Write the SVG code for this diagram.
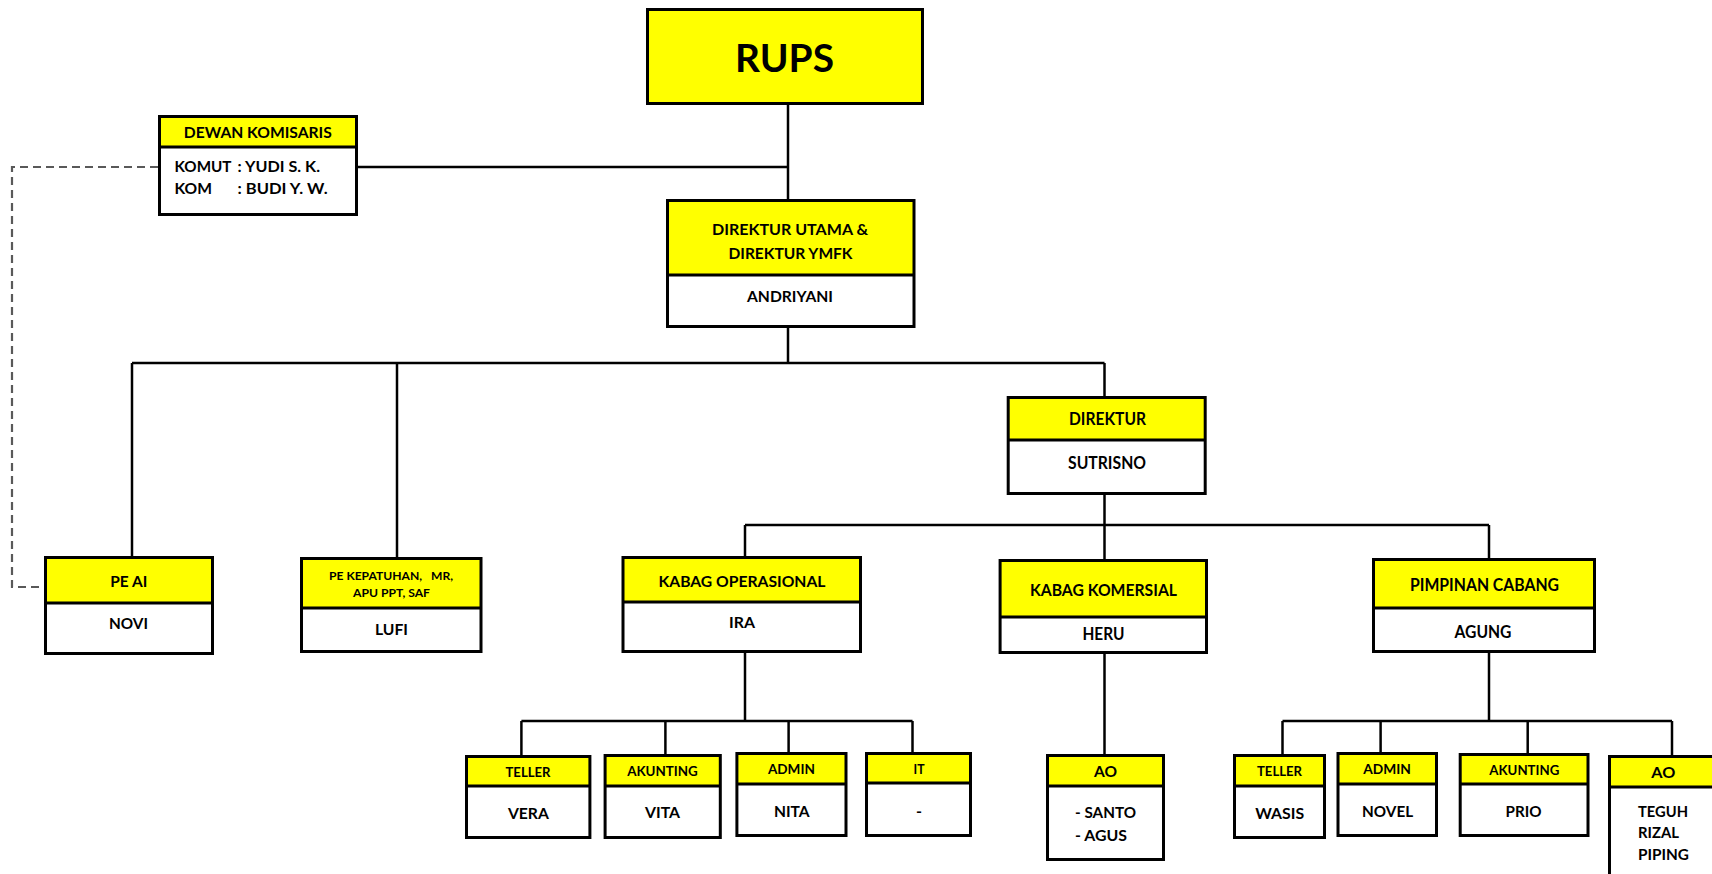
<svg xmlns="http://www.w3.org/2000/svg" width="1712" height="874" viewBox="0 0 1712 874">
<style>
  .bg{fill:#fff;stroke:none}
  .hd{fill:#ffff00;stroke:none}
  .bx{fill:none;stroke:#000;stroke-width:3}
  .dv{stroke:#000;stroke-width:3}
  .cn{fill:none;stroke:#000;stroke-width:2.5}
  .ds{fill:none;stroke:#595959;stroke-width:2.2;stroke-dasharray:8 5}
  text{font-family:Lato,"Open Sans","DejaVu Sans",sans-serif;font-weight:700;fill:#000}
  .c{text-anchor:middle}
</style>
<rect width="1712" height="874" fill="#fff"/>
<g id="connectors">
  <line class="cn" x1="788" y1="105" x2="788" y2="199"/>
  <line class="cn" x1="358" y1="167" x2="788" y2="167"/>
  <polyline class="ds" points="158,167 12,167 12,587 44,587"/>
  <line class="cn" x1="788" y1="328" x2="788" y2="363"/>
  <line class="cn" x1="132" y1="363" x2="1104.5" y2="363"/>
  <line class="cn" x1="132" y1="363" x2="132" y2="556"/>
  <line class="cn" x1="397" y1="363" x2="397" y2="557"/>
  <line class="cn" x1="1104.5" y1="363" x2="1104.5" y2="396"/>
  <line class="cn" x1="1104.5" y1="495" x2="1104.5" y2="559"/>
  <line class="cn" x1="745" y1="525" x2="1489" y2="525"/>
  <line class="cn" x1="745" y1="525" x2="745" y2="556"/>
  <line class="cn" x1="1489" y1="525" x2="1489" y2="558"/>
  <line class="cn" x1="745" y1="653" x2="745" y2="721"/>
  <line class="cn" x1="521.4" y1="721" x2="912.5" y2="721"/>
  <line class="cn" x1="521.4" y1="721" x2="521.4" y2="755"/>
  <line class="cn" x1="665.4" y1="721" x2="665.4" y2="754"/>
  <line class="cn" x1="788.6" y1="721" x2="788.6" y2="752"/>
  <line class="cn" x1="912.5" y1="721" x2="912.5" y2="752"/>
  <line class="cn" x1="1104.5" y1="654" x2="1104.5" y2="754"/>
  <line class="cn" x1="1489" y1="653" x2="1489" y2="721"/>
  <line class="cn" x1="1282.5" y1="721" x2="1672" y2="721"/>
  <line class="cn" x1="1282.5" y1="721" x2="1282.5" y2="754"/>
  <line class="cn" x1="1380.6" y1="721" x2="1380.6" y2="752"/>
  <line class="cn" x1="1527.7" y1="721" x2="1527.7" y2="753"/>
  <line class="cn" x1="1672" y1="721" x2="1672" y2="755"/>
</g>
<g id="rups">
  <rect class="hd" x="647.5" y="9.5" width="275" height="94"/>
  <rect class="bx" x="647.5" y="9.5" width="275" height="94"/>
  <text class="c" x="784.5" y="71.5" font-size="39" textLength="99" lengthAdjust="spacingAndGlyphs">RUPS</text>
</g>
<g id="dewan-komisaris">
  <rect class="bg" x="159.5" y="116.5" width="197" height="98"/>
  <rect class="hd" x="159.5" y="116.5" width="197" height="30.5"/>
  <rect class="bx" x="159.5" y="116.5" width="197" height="98"/>
  <line class="dv" x1="159.5" y1="147" x2="356.5" y2="147"/>
  <text class="c" x="257.8" y="138.3" font-size="16" textLength="148" lengthAdjust="spacingAndGlyphs">DEWAN KOMISARIS</text>
  <text x="174.5" y="172.3" font-size="16" textLength="57" lengthAdjust="spacingAndGlyphs">KOMUT</text>
  <text x="237.6" y="172.3" font-size="16" textLength="82.4" lengthAdjust="spacingAndGlyphs">: YUDI S. K.</text>
  <text x="174.5" y="194.3" font-size="16" textLength="37.5" lengthAdjust="spacingAndGlyphs">KOM</text>
  <text x="237.6" y="194.3" font-size="16" textLength="90" lengthAdjust="spacingAndGlyphs">: BUDI Y. W.</text>
</g>
<g id="direktur-utama">
  <rect class="bg" x="667.5" y="200.5" width="246.5" height="126"/>
  <rect class="hd" x="667.5" y="200.5" width="246.5" height="74.5"/>
  <rect class="bx" x="667.5" y="200.5" width="246.5" height="126"/>
  <line class="dv" x1="667.5" y1="275" x2="914" y2="275"/>
  <text class="c" x="790" y="235" font-size="15.5" textLength="156" lengthAdjust="spacingAndGlyphs">DIREKTUR UTAMA &amp;</text>
  <text class="c" x="790.5" y="258.7" font-size="15.5" textLength="124" lengthAdjust="spacingAndGlyphs">DIREKTUR YMFK</text>
  <text class="c" x="790" y="302" font-size="15.5" textLength="86" lengthAdjust="spacingAndGlyphs">ANDRIYANI</text>
</g>
<g id="pe-ai">
  <rect class="bg" x="45.5" y="557.5" width="167" height="96"/>
  <rect class="hd" x="45.5" y="557.5" width="167" height="45.5"/>
  <rect class="bx" x="45.5" y="557.5" width="167" height="96"/>
  <line class="dv" x1="45.5" y1="603" x2="212.5" y2="603"/>
  <text class="c" x="128.8" y="587.3" font-size="16" textLength="37" lengthAdjust="spacingAndGlyphs">PE AI</text>
  <text class="c" x="128.5" y="629" font-size="16" textLength="39" lengthAdjust="spacingAndGlyphs">NOVI</text>
</g>
<g id="pe-kepatuhan">
  <rect class="bg" x="301.5" y="558.5" width="179.5" height="93"/>
  <rect class="hd" x="301.5" y="558.5" width="179.5" height="49.5"/>
  <rect class="bx" x="301.5" y="558.5" width="179.5" height="93"/>
  <line class="dv" x1="301.5" y1="608" x2="481" y2="608"/>
  <text class="c" x="391" y="580" font-size="11.5" xml:space="preserve" style="white-space:pre" textLength="124" lengthAdjust="spacingAndGlyphs">PE KEPATUHAN,   MR,</text>
  <text class="c" x="391.5" y="596.7" font-size="11.5" textLength="77" lengthAdjust="spacingAndGlyphs">APU PPT, SAF</text>
  <text class="c" x="391.5" y="635" font-size="16" textLength="33" lengthAdjust="spacingAndGlyphs">LUFI</text>
</g>
<g id="kabag-operasional">
  <rect class="bg" x="623" y="557.5" width="237.5" height="94"/>
  <rect class="hd" x="623" y="557.5" width="237.5" height="44.5"/>
  <rect class="bx" x="623" y="557.5" width="237.5" height="94"/>
  <line class="dv" x1="623" y1="602" x2="860.5" y2="602"/>
  <text class="c" x="742" y="586.7" font-size="16" textLength="167" lengthAdjust="spacingAndGlyphs">KABAG OPERASIONAL</text>
  <text class="c" x="742" y="628.3" font-size="16" textLength="26" lengthAdjust="spacingAndGlyphs">IRA</text>
</g>
<g id="direktur">
  <rect class="bg" x="1008.2" y="397.5" width="197" height="96"/>
  <rect class="hd" x="1008.2" y="397.5" width="197" height="42.5"/>
  <rect class="bx" x="1008.2" y="397.5" width="197" height="96"/>
  <line class="dv" x1="1008.2" y1="440" x2="1205.2" y2="440"/>
  <text class="c" x="1107.5" y="425.3" font-size="16.5" textLength="77" lengthAdjust="spacingAndGlyphs">DIREKTUR</text>
  <text class="c" x="1107" y="469.3" font-size="16.5" textLength="78" lengthAdjust="spacingAndGlyphs">SUTRISNO</text>
</g>
<g id="kabag-komersial">
  <rect class="bg" x="1000.1" y="560.5" width="206.4" height="92"/>
  <rect class="hd" x="1000.1" y="560.5" width="206.4" height="56.5"/>
  <rect class="bx" x="1000.1" y="560.5" width="206.4" height="92"/>
  <line class="dv" x1="1000.1" y1="617" x2="1206.5" y2="617"/>
  <text class="c" x="1103.5" y="595.7" font-size="17" textLength="147" lengthAdjust="spacingAndGlyphs">KABAG KOMERSIAL</text>
  <text class="c" x="1103.5" y="640" font-size="16.5" textLength="42" lengthAdjust="spacingAndGlyphs">HERU</text>
</g>
<g id="pimpinan-cabang">
  <rect class="bg" x="1373.5" y="559.5" width="221" height="92"/>
  <rect class="hd" x="1373.5" y="559.5" width="221" height="48.5"/>
  <rect class="bx" x="1373.5" y="559.5" width="221" height="92"/>
  <line class="dv" x1="1373.5" y1="608" x2="1594.5" y2="608"/>
  <text class="c" x="1484.5" y="590.7" font-size="16.5" textLength="149" lengthAdjust="spacingAndGlyphs">PIMPINAN CABANG</text>
  <text class="c" x="1483" y="638.3" font-size="16.5" textLength="57" lengthAdjust="spacingAndGlyphs">AGUNG</text>
</g>
<g id="teller-ops">
  <rect class="bg" x="466.5" y="756.5" width="123.4" height="81"/>
  <rect class="hd" x="466.5" y="756.5" width="123.4" height="29.5"/>
  <rect class="bx" x="466.5" y="756.5" width="123.4" height="81"/>
  <line class="dv" x1="466.5" y1="786" x2="589.9" y2="786"/>
  <text class="c" x="528" y="777.3" font-size="14" textLength="45" lengthAdjust="spacingAndGlyphs">TELLER</text>
  <text class="c" x="528.4" y="819.3" font-size="16" textLength="41" lengthAdjust="spacingAndGlyphs">VERA</text>
</g>
<g id="akunting-ops">
  <rect class="bg" x="605.1" y="755.5" width="115.2" height="82"/>
  <rect class="hd" x="605.1" y="755.5" width="115.2" height="30.5"/>
  <rect class="bx" x="605.1" y="755.5" width="115.2" height="82"/>
  <line class="dv" x1="605.1" y1="786" x2="720.3" y2="786"/>
  <text class="c" x="662.5" y="776" font-size="14" textLength="70.7" lengthAdjust="spacingAndGlyphs">AKUNTING</text>
  <text class="c" x="662.5" y="818" font-size="16" textLength="35" lengthAdjust="spacingAndGlyphs">VITA</text>
</g>
<g id="admin-ops">
  <rect class="bg" x="736.9" y="753.5" width="109.1" height="82"/>
  <rect class="hd" x="736.9" y="753.5" width="109.1" height="30.5"/>
  <rect class="bx" x="736.9" y="753.5" width="109.1" height="82"/>
  <line class="dv" x1="736.9" y1="784" x2="846" y2="784"/>
  <text class="c" x="791.4" y="774.3" font-size="14" textLength="47" lengthAdjust="spacingAndGlyphs">ADMIN</text>
  <text class="c" x="791.8" y="817.3" font-size="16" textLength="35.7" lengthAdjust="spacingAndGlyphs">NITA</text>
</g>
<g id="it">
  <rect class="bg" x="866.5" y="753.5" width="104" height="82"/>
  <rect class="hd" x="866.5" y="753.5" width="104" height="29.5"/>
  <rect class="bx" x="866.5" y="753.5" width="104" height="82"/>
  <line class="dv" x1="866.5" y1="783" x2="970.5" y2="783"/>
  <text class="c" x="919" y="774.3" font-size="14" textLength="11" lengthAdjust="spacingAndGlyphs">IT</text>
  <text class="c" x="919" y="817" font-size="16">-</text>
</g>
<g id="ao-komersial">
  <rect class="bg" x="1047.5" y="755.5" width="116" height="104"/>
  <rect class="hd" x="1047.5" y="755.5" width="116" height="30.5"/>
  <rect class="bx" x="1047.5" y="755.5" width="116" height="104"/>
  <line class="dv" x1="1047.5" y1="786" x2="1163.5" y2="786"/>
  <text class="c" x="1105.6" y="777.3" font-size="14.5" textLength="23" lengthAdjust="spacingAndGlyphs">AO</text>
  <text x="1075" y="818.3" font-size="16" textLength="61" lengthAdjust="spacingAndGlyphs">- SANTO</text>
  <text x="1075" y="841" font-size="16" textLength="52" lengthAdjust="spacingAndGlyphs">- AGUS</text>
</g>
<g id="teller-cabang">
  <rect class="bg" x="1234.5" y="755.5" width="90" height="82"/>
  <rect class="hd" x="1234.5" y="755.5" width="90" height="30.5"/>
  <rect class="bx" x="1234.5" y="755.5" width="90" height="82"/>
  <line class="dv" x1="1234.5" y1="786" x2="1324.5" y2="786"/>
  <text class="c" x="1279.5" y="776" font-size="14" textLength="45" lengthAdjust="spacingAndGlyphs">TELLER</text>
  <text class="c" x="1279.7" y="819" font-size="16" textLength="49" lengthAdjust="spacingAndGlyphs">WASIS</text>
</g>
<g id="admin-cabang">
  <rect class="bg" x="1338" y="753.5" width="98.5" height="82"/>
  <rect class="hd" x="1338" y="753.5" width="98.5" height="30.5"/>
  <rect class="bx" x="1338" y="753.5" width="98.5" height="82"/>
  <line class="dv" x1="1338" y1="784" x2="1436.5" y2="784"/>
  <text class="c" x="1387" y="774.3" font-size="14" textLength="47.7" lengthAdjust="spacingAndGlyphs">ADMIN</text>
  <text class="c" x="1387.6" y="817.3" font-size="16" textLength="51" lengthAdjust="spacingAndGlyphs">NOVEL</text>
</g>
<g id="akunting-cabang">
  <rect class="bg" x="1460.2" y="754.5" width="127.8" height="81"/>
  <rect class="hd" x="1460.2" y="754.5" width="127.8" height="29.5"/>
  <rect class="bx" x="1460.2" y="754.5" width="127.8" height="81"/>
  <line class="dv" x1="1460.2" y1="784" x2="1588" y2="784"/>
  <text class="c" x="1524.3" y="775" font-size="14" textLength="70" lengthAdjust="spacingAndGlyphs">AKUNTING</text>
  <text class="c" x="1523.6" y="817.3" font-size="16" textLength="36" lengthAdjust="spacingAndGlyphs">PRIO</text>
</g>
<g id="ao-cabang">
  <rect class="bg" x="1609.5" y="756.5" width="110" height="150"/>
  <rect class="hd" x="1609.5" y="756.5" width="110" height="30.5"/>
  <rect class="bx" x="1609.5" y="756.5" width="110" height="150"/>
  <line class="dv" x1="1609.5" y1="787" x2="1719.5" y2="787"/>
  <text class="c" x="1663.3" y="778" font-size="14.5" textLength="24" lengthAdjust="spacingAndGlyphs">AO</text>
  <text x="1638" y="816.7" font-size="16" textLength="50" lengthAdjust="spacingAndGlyphs">TEGUH</text>
  <text x="1638" y="838.3" font-size="16" textLength="41" lengthAdjust="spacingAndGlyphs">RIZAL</text>
  <text x="1638" y="860" font-size="16" textLength="51" lengthAdjust="spacingAndGlyphs">PIPING</text>
</g>
</svg>
